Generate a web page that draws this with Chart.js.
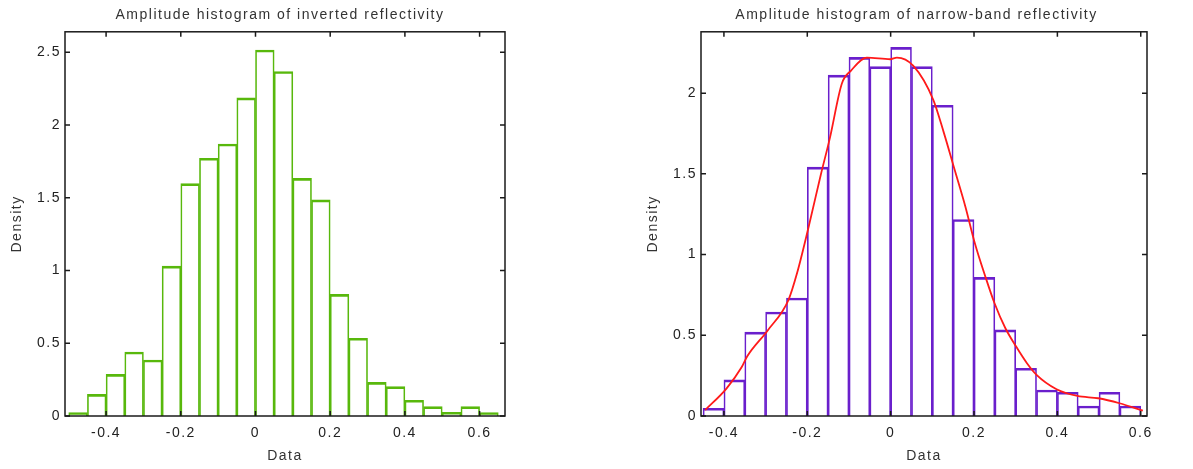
<!DOCTYPE html>
<html>
<head>
<meta charset="utf-8">
<script src="https://cdn.jsdelivr.net/npm/chart.js@4/dist/chart.umd.min.js"></script>
<style>
  html, body { margin: 0; padding: 0; background: #fff; }
  #wrap { position: relative; width: 1193px; height: 469px; }
  .box { position: absolute; top: 0; height: 469px; }
</style>
</head>
<body>
<div id="wrap">
  <div class="box" style="left:0;width:560px"><canvas id="invChart"></canvas></div>
  <div class="box" style="left:640px;width:553px"><canvas id="nbChart"></canvas></div>
</div>
<script>
// bin centres (width 0.05) and densities
const invBins = [-0.475, -0.425, -0.375, -0.325, -0.275, -0.225, -0.175, -0.125, -0.075, -0.025,
  0.025, 0.075, 0.125, 0.175, 0.225, 0.275, 0.325, 0.375, 0.425, 0.475, 0.525, 0.575, 0.625];
const invDensity = [0.023, 0.149, 0.286, 0.44, 0.385, 1.03, 1.597, 1.771, 1.869, 2.186,
  2.515, 2.367, 1.633, 1.485, 0.836, 0.534, 0.231, 0.202, 0.108, 0.064, 0.025, 0.064, 0.023];

const nbBins = [-0.425, -0.375, -0.325, -0.275, -0.225, -0.175, -0.125, -0.075, -0.025,
  0.025, 0.075, 0.125, 0.175, 0.225, 0.275, 0.325, 0.375, 0.425, 0.475, 0.525, 0.575];
const nbDensity = [0.048, 0.224, 0.52, 0.644, 0.731, 1.542, 2.112, 2.222, 2.164,
  2.284, 2.164, 1.925, 1.217, 0.859, 0.534, 0.296, 0.161, 0.147, 0.062, 0.147, 0.062];

// fitted density curve (red)
const fitX = [-0.445, -0.394, -0.358, -0.344, -0.295, -0.245, -0.224, -0.196, -0.168, -0.146,
  -0.117, -0.095, -0.057, -0.001, 0.015, 0.054, 0.102, 0.127, 0.153, 0.179, 0.202, 0.227,
  0.249, 0.275, 0.301, 0.327, 0.35, 0.398, 0.448, 0.498, 0.549, 0.605];
const fitY = [0.037, 0.17, 0.30, 0.37, 0.53, 0.72, 0.89, 1.18, 1.49, 1.72,
  2.06, 2.14, 2.22, 2.21, 2.22, 2.17, 1.96, 1.76, 1.53, 1.30, 1.07, 0.865,
  0.70, 0.545, 0.43, 0.327, 0.255, 0.166, 0.124, 0.11, 0.079, 0.033];

const xTicks = [-0.4, -0.2, 0, 0.2, 0.4, 0.6];
const invYTicks = [0, 0.5, 1, 1.5, 2, 2.5];
const nbYTicks = [0, 0.5, 1, 1.5, 2];

const FONT = "'Liberation Sans', Arial, sans-serif";

// the reference text is widely spaced, so spread the letters a bit
const spacingPlugin = {
  id: 'spacing',
  beforeUpdate(chart) { chart.ctx.letterSpacing = '1.5px'; },
  beforeDraw(chart) { chart.ctx.letterSpacing = '1.5px'; }
};

// frame round the plot plus inward ticks on all four sides
const boxPlugin = {
  id: 'boxTicks',
  afterDraw(chart) {
    const { ctx, chartArea: a, scales } = chart;
    ctx.save();
    ctx.strokeStyle = '#1a1a1a';
    ctx.lineWidth = 1.5;
    ctx.strokeRect(a.left, a.top, a.right - a.left, a.bottom - a.top);
    ctx.beginPath();
    scales.x.ticks.forEach(t => {
      const px = scales.x.getPixelForValue(t.value);
      ctx.moveTo(px, a.bottom); ctx.lineTo(px, a.bottom - 5);
      ctx.moveTo(px, a.top); ctx.lineTo(px, a.top + 5);
    });
    scales.y.ticks.forEach(t => {
      const py = scales.y.getPixelForValue(t.value);
      ctx.moveTo(a.left, py); ctx.lineTo(a.left + 5, py);
      ctx.moveTo(a.right, py); ctx.lineTo(a.right - 5, py);
    });
    ctx.stroke();
    ctx.restore();
  }
};

function makeScales(xmin, xmax, ymax, yTicks, yWidth, rightGap, yTitlePad) {
  return {
    x: {
      type: 'linear', min: xmin, max: xmax, offset: false,
      afterBuildTicks: s => { s.ticks = xTicks.map(v => ({ value: v })); },
      afterFit: s => { s.height = 53; },
      grid: { display: false, drawTicks: false, offset: false },
      border: { display: false },
      ticks: { color: '#222', font: { family: FONT, size: 14 }, padding: 9, maxRotation: 0,
        callback: v => String(v) },
      title: { display: true, text: 'Data', color: '#333', font: { family: FONT, size: 14 },
        padding: { top: 0, bottom: 4 } }
    },
    y: {
      min: 0, max: ymax,
      afterBuildTicks: s => { s.ticks = yTicks.map(v => ({ value: v })); },
      afterFit: s => { s.width = yWidth; },
      grid: { display: false, drawTicks: false },
      border: { display: false },
      ticks: { color: '#222', font: { family: FONT, size: 14 }, padding: 4,
        callback: v => String(v) },
      title: { display: true, text: 'Density', color: '#333', font: { family: FONT, size: 14 },
        padding: { top: yTitlePad, bottom: 0 } }
    },
    // empty axis on the right, only to leave the margin (keeps the title centred on the canvas)
    gap: {
      position: 'right', min: 0, max: 1,
      afterFit: s => { s.width = rightGap; },
      grid: { display: false, drawTicks: false },
      border: { display: false },
      ticks: { display: false }
    }
  };
}

function titleOpts(text) {
  return {
    display: true, text: text, color: '#333',
    font: { family: FONT, size: 14, weight: 'normal' },
    padding: { top: 7, bottom: 8 }
  };
}

const barBorder = { top: 2, left: 1, right: 1, bottom: 0 };

new Chart(document.getElementById('invChart'), {
  type: 'bar',
  data: {
    datasets: [{
      data: invBins.map((x, i) => ({ x: x, y: invDensity[i] })),
      backgroundColor: 'rgba(255,255,255,0)',
      borderColor: '#58b80c',
      borderWidth: barBorder,
      borderSkipped: false,
      barPercentage: 1,
      categoryPercentage: 1
    }]
  },
  options: {
    responsive: true, maintainAspectRatio: false, animation: false,
    plugins: { legend: { display: false }, tooltip: { enabled: false },
      title: titleOpts('Amplitude histogram of inverted reflectivity') },
    scales: makeScales(-0.51, 0.668, 2.64, invYTicks, 65, 55, 9)
  },
  plugins: [spacingPlugin, boxPlugin]
});

new Chart(document.getElementById('nbChart'), {
  type: 'bar',
  data: {
    datasets: [{
      type: 'line',
      data: fitX.map((x, i) => ({ x: x, y: fitY[i] })),
      borderColor: '#ff1a1a',
      borderWidth: 1.8,
      pointRadius: 0,
      cubicInterpolationMode: 'monotone',
      fill: false,
      order: 0
    }, {
      data: nbBins.map((x, i) => ({ x: x, y: nbDensity[i] })),
      backgroundColor: 'rgba(255,255,255,0)',
      borderColor: '#6a1fcc',
      borderWidth: barBorder,
      borderSkipped: false,
      barPercentage: 1,
      categoryPercentage: 1,
      order: 1
    }]
  },
  options: {
    responsive: true, maintainAspectRatio: false, animation: false,
    plugins: { legend: { display: false }, tooltip: { enabled: false },
      title: titleOpts('Amplitude histogram of narrow-band reflectivity') },
    scales: makeScales(-0.455, 0.615, 2.38, nbYTicks, 61, 46, 5)
  },
  plugins: [spacingPlugin, boxPlugin]
});
</script>
</body>
</html>
